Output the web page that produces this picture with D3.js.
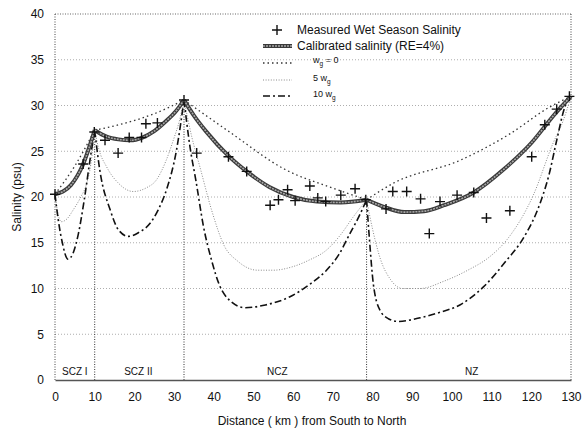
<!DOCTYPE html>
<html><head><meta charset="utf-8">
<script src="https://cdn.jsdelivr.net/npm/d3@7"></script>
<style>
html,body{margin:0;padding:0;background:#fff;}
text{font-family:"Liberation Sans",Arial,sans-serif;fill:#111;}
</style></head>
<body>
<svg id="chart" width="584" height="432"></svg>
<script>
// ---------- data ----------
const xTicks = [0,10,20,30,40,50,60,70,80,90,100,110,120,130];
const yTicks = [0,5,10,15,20,25,30,35,40];
const zoneBreaks = [10,32.5,78.5];
const junctionPsu = [27.3,30.6,19.7];
const zoneNames = ["SCZ I","SCZ II","NCZ","NZ"];
const zoneLabelKm = [5,21,56,105];

const measuredKm  = [0,7.1,9.9,12.6,15.9,18.7,21.8,22.9,25.8,32.5,35.7,43.7,48.3,54.2,56.3,58.6,60.5,64.2,66.2,68.2,72.0,75.6,78.3,83.4,85.1,88.6,92.1,94.3,97.0,101.3,105.5,108.7,114.6,120.1,123.4,126.4,129.6];
const measuredPsu = [20.3,23.6,27.1,26.2,24.8,26.5,26.5,28.0,28.1,30.6,24.8,24.4,22.8,19.1,19.7,20.8,19.6,21.2,19.9,19.5,20.2,20.9,19.7,18.7,20.6,20.6,19.8,16.0,19.5,20.2,20.5,17.7,18.5,24.4,27.9,29.6,31.0];

const calibratedKm  = [0,2,4,7,10, 10,13,16,19,22,25,28,30.5,32.5, 32.5,35,38,43.7,48.3,54,60,66,72,78.5, 78.5,83,88,93,98,105.5,113,120,126,130];
const calibratedPsu = [20.3,20.6,21.3,23.5,27.3, 27.3,26.6,26.3,26.2,26.5,27.2,28.3,29.4,30.6, 30.6,28.9,27.2,24.5,22.8,21.1,20.0,19.5,19.4,19.7, 19.7,18.9,18.35,18.45,19.1,20.5,23.0,25.9,29.1,31.0];

const wg0Km  = [0,5,10, 10,17,25,32.5, 32.5,44,58,70.5,78.5, 78.5,85.2,102,114.6,124.5,130];
const wg0Psu = [20.3,23.4,27.3, 27.3,28.0,29.1,30.6, 30.6,27.1,23.0,20.9,19.7, 19.7,21.5,24.0,26.9,29.8,31.0];

const wg5Km  = [0,0.7,1.6,3,4.6,6.5,8,9,10, 10,11,13,16,19.7,23,25.6,28,29.8,31.5,32.5, 32.5,34.5,36.5,39.5,42.6,46,51,55,60,64,68.4,72,75.1,78.5, 78.5,80,82,84.5,87.5,92,98,104,109.6,113.8,120.5,125.5,128,130];
const wg5Psu = [20.3,18.3,17.3,17.6,18.6,20.0,21.5,23.5,27.3, 27.3,25.3,23.3,21.5,20.6,21.0,21.9,24.0,26.2,28.6,30.6, 30.6,26.5,23.3,18.5,14.7,13.0,12.0,12.0,12.4,13.1,14.2,15.9,17.8,19.7, 19.7,16.5,13.2,11.0,10.0,10.0,10.8,12.0,13.5,15.3,20.2,25.9,28.3,31.0];

const wg10Km  = [0,0.5,1.7,3.3,4.5,5.9,7.3,8.8,10, 10,11.3,13.9,16,18.5,21,23.9,26,28.1,30.6,32.5, 32.5,34,35.5,37.4,39.5,41.5,44,47.9,53,59.2,64,68.4,71.5,74.3,76.5,78.5, 78.5,79.2,80.2,81.9,84,86.5,92,97,102,108,113.8,118,122.2,124.5,126.4,128.5,130];
const wg10Psu = [20.3,18.5,15.3,13.2,13.8,16.0,19.5,24.0,27.3, 27.3,22.9,18.6,16.4,15.7,16.1,17.1,18.6,20.8,25.1,30.6, 30.6,25.5,21.8,16.8,13.0,10.3,8.7,7.9,8.2,9.1,10.4,12.0,13.7,16.0,17.8,19.7, 19.7,15.5,10.5,7.6,6.7,6.4,6.8,7.4,8.2,10.2,13.1,15.5,19.3,22.5,26.2,29.9,31.0];

// ---------- layout ----------
const svg = d3.select("#chart");
const m = {left:55, right:13, top:14, bottom:52};
const W = 584, H = 432;
const x = d3.scaleLinear().domain([0,130]).range([m.left, W-m.right]);
const y = d3.scaleLinear().domain([0,40]).range([H-m.bottom, m.top]);

// gridlines
svg.append("g").selectAll("line").data(yTicks.filter(v=>v>0&&v<40)).join("line")
  .attr("x1",x(0)).attr("x2",x(130)).attr("y1",d=>y(d)).attr("y2",d=>y(d))
  .attr("stroke","#999").attr("stroke-width",0.8).attr("stroke-dasharray","1,2");

// frame
svg.append("line").attr("x1",x(0)).attr("x2",x(130)).attr("y1",y(40)).attr("y2",y(40))
  .attr("stroke","#666").attr("stroke-width",1).attr("stroke-dasharray","1,1.5");
svg.append("line").attr("x1",x(0)).attr("x2",x(0)).attr("y1",y(0)).attr("y2",y(40))
  .attr("stroke","#444").attr("stroke-width",1).attr("stroke-dasharray","1,1.5");
svg.append("line").attr("x1",x(130)).attr("x2",x(130)).attr("y1",y(0)).attr("y2",y(40))
  .attr("stroke","#444").attr("stroke-width",1).attr("stroke-dasharray","1,1.5");

// zone boundaries
svg.append("g").selectAll("line").data(zoneBreaks).join("line")
  .attr("x1",d=>x(d)).attr("x2",d=>x(d)).attr("y1",y(0)).attr("y2",(d,i)=>y(junctionPsu[i]))
  .attr("stroke","#333").attr("stroke-width",1).attr("stroke-dasharray","1,1.5");

// axes
const xAxis = d3.axisBottom(x).tickValues(xTicks).tickSize(0).tickPadding(12);
const gx = svg.append("g").attr("transform",`translate(0,${y(0)})`).call(xAxis);
gx.select(".domain").attr("stroke","#555").attr("stroke-width",1.3);
gx.selectAll("text").attr("font-size",12).style("font-family","Liberation Sans, Arial, sans-serif").attr("fill","#111");
const yAxis = d3.axisLeft(y).tickValues(yTicks).tickSize(0).tickPadding(11);
const gy = svg.append("g").attr("transform",`translate(${x(0)},0)`).call(yAxis);
gy.select(".domain").remove();
gy.selectAll("text").attr("font-size",12).style("font-family","Liberation Sans, Arial, sans-serif").attr("fill","#111");

// axis titles
svg.append("text").attr("x",312).attr("y",425).attr("text-anchor","middle").attr("font-size",12)
  .text("Distance ( km ) from South to North");
svg.append("text").attr("transform",`translate(21,${y(20)}) rotate(-90)`).attr("text-anchor","middle").attr("font-size",12)
  .text("Salinity (psu)");

// zone labels
svg.append("g").selectAll("text").data(zoneNames).join("text")
  .attr("x",(d,i)=>x(zoneLabelKm[i])).attr("y",y(0)-5).attr("text-anchor","middle")
  .attr("font-size",10).text(d=>d);

// ---------- series ----------
function segments(km, psu){
  const pts = km.map((k,i)=>[k,psu[i]]);
  const segs = []; let cur = [];
  pts.forEach((p,i)=>{
    if(cur.length && p[0]===cur[cur.length-1][0]){ segs.push(cur); cur=[p]; }
    else cur.push(p);
  });
  if(cur.length) segs.push(cur);
  return segs;
}
const line = d3.line().x(d=>x(d[0])).y(d=>y(d[1])).curve(d3.curveMonotoneX);

function drawSeries(km, psu, styles){
  const segs = segments(km, psu);
  styles.forEach(st=>{
    svg.append("g").selectAll("path").data(segs).join("path")
      .attr("d",line).attr("fill","none")
      .attr("stroke",st.stroke).attr("stroke-width",st.width)
      .attr("stroke-dasharray",st.dash||null).attr("stroke-linecap",st.cap||"butt");
  });
}

drawSeries(wg5Km, wg5Psu, [{stroke:"#8a8a8a", width:1, dash:"1,1.6"}]);
drawSeries(wg10Km, wg10Psu, [{stroke:"#111", width:1.6, dash:"7,3,2,3"}]);
drawSeries(wg0Km, wg0Psu, [{stroke:"#333", width:1.3, dash:"1.5,3"}]);
drawSeries(calibratedKm, calibratedPsu, [{stroke:"#3a3a3a", width:4}, {stroke:"#a8a8a8", width:1.6, dash:"2,1"}]);

// measured crosses
const cs = 5;
svg.append("g").selectAll("path").data(measuredKm.map((k,i)=>[k,measuredPsu[i]])).join("path")
  .attr("d",d=>`M${x(d[0])-cs},${y(d[1])}H${x(d[0])+cs}M${x(d[0])},${y(d[1])-cs}V${y(d[1])+cs}`)
  .attr("stroke","#111").attr("stroke-width",1.4).attr("fill","none");

// ---------- legend ----------
const lg = svg.append("g");
const lx0 = 263, lx1 = 292;
lg.append("path").attr("d",`M${277-cs},30H${277+cs}M277,${30-cs}V${30+cs}`).attr("stroke","#111").attr("stroke-width",1.4);
lg.append("text").attr("x",297).attr("y",34).attr("font-size",12).text("Measured Wet Season Salinity");
lg.append("line").attr("x1",lx0).attr("x2",lx1).attr("y1",46).attr("y2",46).attr("stroke","#3a3a3a").attr("stroke-width",4);
lg.append("line").attr("x1",lx0).attr("x2",lx1).attr("y1",46).attr("y2",46).attr("stroke","#a8a8a8").attr("stroke-width",1.6).attr("stroke-dasharray","2,1");
lg.append("text").attr("x",297).attr("y",50).attr("font-size",12).text("Calibrated salinity (RE=4%)");

lg.append("line").attr("x1",lx0).attr("x2",lx1).attr("y1",63).attr("y2",63).attr("stroke","#333").attr("stroke-width",1.3).attr("stroke-dasharray","1.5,3");
const t1 = lg.append("text").attr("x",313).attr("y",63).attr("font-size",9);
t1.append("tspan").text("w");
t1.append("tspan").attr("font-size",6.5).attr("dy",2.5).text("g");
t1.append("tspan").attr("dy",-2.5).text(" = 0");

lg.append("line").attr("x1",lx0).attr("x2",lx1).attr("y1",80).attr("y2",80).attr("stroke","#8a8a8a").attr("stroke-width",1).attr("stroke-dasharray","1,1.6");
const t2 = lg.append("text").attr("x",313).attr("y",81).attr("font-size",9);
t2.append("tspan").text("5 w");
t2.append("tspan").attr("font-size",6.5).attr("dy",2.5).text("g");

lg.append("line").attr("x1",lx0).attr("x2",lx1).attr("y1",96).attr("y2",96).attr("stroke","#111").attr("stroke-width",1.6).attr("stroke-dasharray","7,3,2,3");
const t3 = lg.append("text").attr("x",313).attr("y",97).attr("font-size",9);
t3.append("tspan").text("10 w");
t3.append("tspan").attr("font-size",6.5).attr("dy",2.5).text("g");
</script>
</body></html>
